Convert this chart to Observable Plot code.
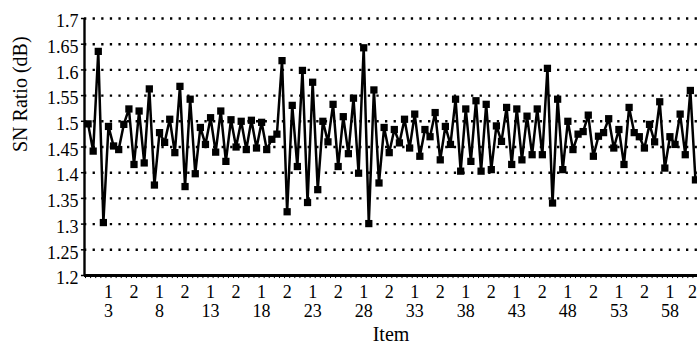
<!DOCTYPE html>
<html><head><meta charset="utf-8">
<script src="https://cdn.jsdelivr.net/npm/d3@7"></script>
<script src="https://cdn.jsdelivr.net/npm/@observablehq/plot@0.6"></script>
<style>html,body{margin:0;padding:0;background:#fff;}</style>
</head><body><div id="chart"></div>
<script>
const items = d3.range(1, 61);
const level1 = [1.495,1.636,1.49,1.445,1.524,1.52,1.563,1.478,1.504,1.568,
  1.543,1.488,1.507,1.52,1.503,1.50,1.502,1.498,1.465,1.618,
  1.531,1.599,1.576,1.50,1.533,1.509,1.545,1.643,1.561,1.488,
  1.484,1.504,1.514,1.484,1.517,1.49,1.543,1.524,1.54,1.533,
  1.491,1.527,1.524,1.51,1.524,1.603,1.543,1.50,1.475,1.512,
  1.471,1.505,1.484,1.527,1.47,1.494,1.538,1.47,1.514,1.56];
const level2 = [1.442,1.303,1.452,1.494,1.416,1.419,1.376,1.459,1.439,1.373,
  1.398,1.455,1.44,1.422,1.45,1.445,1.448,1.445,1.475,1.324,
  1.412,1.342,1.367,1.46,1.412,1.437,1.399,1.301,1.38,1.439,
  1.458,1.448,1.432,1.47,1.425,1.455,1.403,1.422,1.403,1.406,
  1.461,1.416,1.425,1.435,1.435,1.341,1.406,1.445,1.48,1.432,
  1.478,1.448,1.416,1.478,1.448,1.46,1.409,1.455,1.435,1.386];
const yTicks = [1.2,1.25,1.3,1.35,1.4,1.45,1.5,1.55,1.6,1.65,1.7];
const yTickLabels = ["1.2","1.25","1.3","1.35","1.4","1.45","1.5","1.55","1.6","1.65","1.7"];
const itemTicks = [3,8,13,18,23,28,33,38,43,48,53,58];

const points = items.flatMap((item, k) => [
  {pos: 2 * k, item, level: 1, sn: level1[k]},
  {pos: 2 * k + 1, item, level: 2, sn: level2[k]}
]);
const lastPos = points.length - 1;
const levelLabelPts = points.filter(p => p.pos >= 4 && (p.pos - 4) % 5 === 0);
const levelInner = levelLabelPts.filter(p => p.pos !== lastPos);
const levelLast = levelLabelPts.filter(p => p.pos === lastPos);
const itemLabelPts = points.filter(p => p.level === 1 && itemTicks.includes(p.item));
const yTickData = yTicks.map((v, i) => ({v, label: yTickLabels[i]}));
const xMin = -0.7, xMax = 119.4;

const chart = Plot.plot({
  width: 697, height: 351,
  marginLeft: 84, marginRight: 0, marginTop: 18, marginBottom: 76,
  x: {domain: [xMin, xMax], axis: null},
  y: {domain: [1.2, 1.7], axis: null},
  style: {fontFamily: "'Liberation Serif', 'DejaVu Serif', serif", background: "white", color: "black"},
  marks: [
    Plot.ruleY(yTicks.filter(t => t > 1.2), {stroke: "black", strokeWidth: 2.4, strokeDasharray: "2.3,6.3"}),
    Plot.ruleY([1.2], {stroke: "black", strokeWidth: 2.8}),
    Plot.ruleX([xMin], {stroke: "black", strokeWidth: 2.4}),
    Plot.ruleY(yTicks, {x1: xMin - 0.6, x2: xMin, stroke: "black", strokeWidth: 1.5}),
    Plot.ruleX(points, {x: d => d.pos - 0.5, y1: 1.2, y2: 1.194, stroke: "black", strokeWidth: 1}),
    Plot.text(yTickData, {x: xMin, y: "v", text: "label", textAnchor: "end", dx: -6, dy: 3, fontSize: 18}),
    Plot.line(points, {x: "pos", y: "sn", stroke: "black", strokeWidth: 2.5}),
    Plot.dot(points, {x: "pos", y: "sn", symbol: "square", r: 4.1, fill: "black"}),
    Plot.text(levelInner, {x: "pos", y: () => 1.2, text: d => String(d.level), dy: 17, fontSize: 18}),
    Plot.text(levelLast, {x: "pos", y: () => 1.2, text: d => String(d.level), textAnchor: "end", dx: 1.5, dy: 17, fontSize: 18}),
    Plot.text(itemLabelPts, {x: "pos", y: () => 1.2, text: d => String(d.item), dy: 36, fontSize: 18}),
    Plot.text(["Item"], {frameAnchor: "bottom", text: d => d, dy: 65, fontSize: 20}),
    Plot.text(["SN Ratio (dB)"], {frameAnchor: "left", text: d => d, rotate: -90, dx: -64, dy: 5, fontSize: 20})
  ]
});
document.getElementById("chart").appendChild(chart);
</script>
</body></html>
